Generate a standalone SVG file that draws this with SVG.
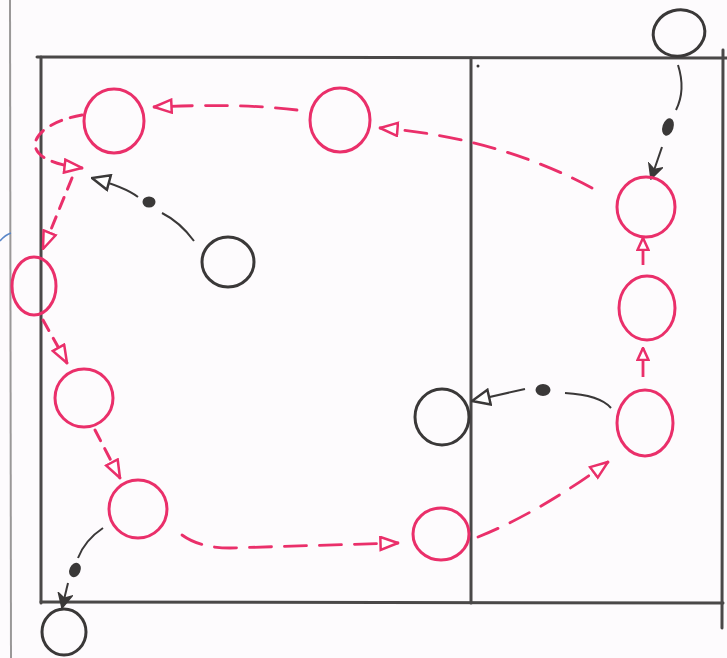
<svg xmlns="http://www.w3.org/2000/svg" width="727" height="658" viewBox="0 0 727 658">
<style>
.court{fill:none;stroke:#4a4848;stroke-width:3;stroke-linecap:round}
.pk{fill:none;stroke:#ea2f6a;stroke-width:3}
.bk{fill:none;stroke:#3a3838;stroke-width:3}
.pd{fill:none;stroke:#ea2f6a;stroke-width:2.8;stroke-dasharray:22 13;stroke-linecap:round}
.pds{fill:none;stroke:#ea2f6a;stroke-width:3;stroke-dasharray:12 9;stroke-linecap:round}
.ps{fill:none;stroke:#ea2f6a;stroke-width:2.8}
.bl{fill:none;stroke:#3a3838;stroke-width:2}
.ball{fill:#3a3838}
</style>
<defs>
<marker id="po" viewBox="0 0 20 16" refX="19" refY="8" markerWidth="20" markerHeight="16" markerUnits="userSpaceOnUse" orient="auto">
<path d="M1.5,1.5 L19,8 L1.5,14.5 Z" fill="#fff" stroke="#ea2f6a" stroke-width="2.5"/>
</marker>
<marker id="ps" viewBox="0 0 14 14" refX="13" refY="7" markerWidth="14" markerHeight="14" markerUnits="userSpaceOnUse" orient="auto">
<path d="M1,1.5 L13,7 L1,12.5 Z" fill="#fff" stroke="#ea2f6a" stroke-width="2.5"/>
</marker>
<marker id="bo" viewBox="0 0 20 18" refX="19" refY="9" markerWidth="20" markerHeight="18" markerUnits="userSpaceOnUse" orient="auto">
<path d="M1.5,1.5 L19,9 L1.5,16.5 Z" fill="#fff" stroke="#3a3838" stroke-width="2.5"/>
</marker>
<marker id="bf" viewBox="0 0 16 16" refX="15" refY="8" markerWidth="16" markerHeight="16" markerUnits="userSpaceOnUse" orient="auto">
<path d="M1,1 L15,8 L1,15 L5,8 Z" fill="#3a3838" stroke="#3a3838" stroke-width="1.5"/>
</marker>
</defs>
<rect width="727" height="658" fill="#fdfbfd"/>
<g id="page">
<path d="M10,0 L11,658" fill="none" stroke="#9a9898" stroke-width="2"/>
<path d="M0,241 Q5,235 11,233" fill="none" stroke="#5a86c8" stroke-width="1.5"/>
</g>
<g id="court">
<path class="court" d="M37,57 L727,58"/>
<path class="court" d="M41,57 L41,603"/>
<path class="court" d="M41,602 L723,603"/>
<path class="court" d="M471,58 L471,603"/>
<path class="court" d="M723,50 L722,628"/>
<circle cx="478" cy="66" r="1.5" fill="#3a3838"/>
</g>
<g id="connectors">
<path class="pd" d="M297,110 Q240,103 154,107" marker-end="url(#po)"/>
<path class="pd" d="M592,188 C540,160 470,135 380,128" marker-end="url(#po)"/>
<path class="pds" d="M82,115 C30,124 10,160 82,168" marker-end="url(#po)"/>
<path class="pds" d="M72,178 L43,249" marker-end="url(#po)"/>
<path class="pds" d="M43,320 L67,363" marker-end="url(#po)"/>
<path class="pds" d="M95,430 L120,478" marker-end="url(#po)"/>
<path class="pd" d="M182,535 Q200,548 230,548 L398,543" marker-end="url(#po)"/>
<path class="pd" d="M478,537 Q540,512 608,462" marker-end="url(#po)"/>
<path class="ps" d="M643,377 L643,348" marker-end="url(#ps)"/>
<path class="ps" d="M643,265 L643,238" marker-end="url(#ps)"/>
<path class="bl" d="M678,65 Q686,90 676,110"/>
<ellipse class="ball" cx="668" cy="127" rx="5.5" ry="9" transform="rotate(18 668 127)"/>
<path class="bl" d="M662,147 L651,179" marker-end="url(#bf)"/>
<path class="bl" d="M194,241 Q180,222 162,213"/>
<ellipse class="ball" cx="149" cy="202" rx="6.5" ry="5.5"/>
<path class="bl" d="M138,197 Q125,187 92,178" marker-end="url(#bo)"/>
<path class="bl" d="M611,408 Q600,395 565,393"/>
<ellipse class="ball" cx="543" cy="390" rx="7.5" ry="6"/>
<path class="bl" d="M525,389 L472,401" marker-end="url(#bo)"/>
<path class="bl" d="M103,528 Q85,540 78,558"/>
<ellipse class="ball" cx="75" cy="570" rx="5.5" ry="7.5" transform="rotate(25 75 570)"/>
<path class="bl" d="M68,583 L62,608" marker-end="url(#bf)"/>
</g>
<g id="p1"><ellipse class="pk" cx="114" cy="121" rx="30" ry="32"/></g>
<g id="p2"><ellipse class="pk" cx="340" cy="120" rx="30" ry="32"/></g>
<g id="p3"><ellipse class="pk" cx="34" cy="286" rx="22" ry="29"/></g>
<g id="p4"><ellipse class="pk" cx="84" cy="398" rx="29" ry="29"/></g>
<g id="p5"><ellipse class="pk" cx="138" cy="509" rx="29" ry="29"/></g>
<g id="p6"><ellipse class="pk" cx="441" cy="534" rx="28" ry="26"/></g>
<g id="p7"><ellipse class="pk" cx="645" cy="423" rx="28" ry="33"/></g>
<g id="p8"><ellipse class="pk" cx="647" cy="308" rx="28" ry="32"/></g>
<g id="p9"><ellipse class="pk" cx="646" cy="207" rx="29" ry="30"/></g>
<g id="bA"><ellipse class="bk" cx="679" cy="33" rx="26" ry="23" transform="rotate(-15 679 33)"/></g>
<g id="bB"><ellipse class="bk" cx="228" cy="262" rx="26" ry="25"/></g>
<g id="bC"><ellipse class="bk" cx="442" cy="417" rx="27" ry="28"/></g>
<g id="bD"><ellipse class="bk" cx="64" cy="632" rx="22" ry="23"/></g>
</svg>
